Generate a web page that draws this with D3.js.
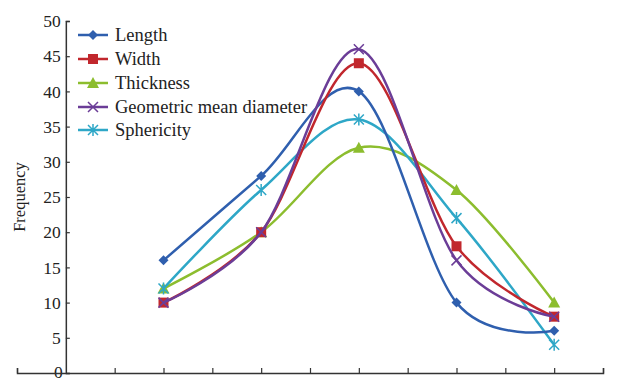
<!DOCTYPE html>
<html><head><meta charset="utf-8">
<script src="https://cdn.jsdelivr.net/npm/d3@7"></script>
<style>body{margin:0;background:#fff}svg{display:block}text{font-family:"Liberation Serif","Times New Roman",serif}</style>
</head><body>
<svg id="c" width="621" height="381"></svg>
<script>
const xPositions = [2, 4, 6, 8, 10];
const yTicks = [0, 5, 10, 15, 20, 25, 30, 35, 40, 45, 50];
const seriesNames = ["Length", "Width", "Thickness", "Geometric mean diameter", "Sphericity"];
const lengthVals = [16, 28, 40, 10, 6];
const widthVals = [10, 20, 44, 18, 8];
const thicknessVals = [12, 20, 32, 26, 10];
const gmdVals = [10, 20, 46, 16, 8];
const sphericityVals = [12, 26, 36, 22, 4];
const colors = ["#2f5fae", "#c1272d", "#8cbd2e", "#6b3d97", "#2ea7c7"];
const markers = ["diamond", "square", "triangle", "x", "asterisk"];

const series = [lengthVals, widthVals, thicknessVals, gmdVals, sphericityVals];
const svg = d3.select("#c");
const x = d3.scaleLinear().domain([-1, 11]).range([17, 603]);
const y = d3.scaleLinear().domain([0, 50]).range([373, 21]);

// y axis
const yAxis = svg.append("g").attr("transform", `translate(${x(0)},0)`)
  .call(d3.axisRight(y).tickValues(yTicks).tickSize(4).tickFormat(""));
yAxis.select(".domain").attr("stroke", "#333").attr("stroke-width", 1.5);
yAxis.selectAll("line").attr("stroke", "#333").attr("stroke-width", 1.2);
svg.append("g").selectAll("text").data(yTicks).join("text")
  .attr("x", d => d === 0 ? x(0) - 3 : x(0) - 5).attr("y", d => y(d))
  .attr("dy", d => d === 0 ? "0.3em" : "0.35em")
  .attr("text-anchor", "end").attr("font-size", 17.5).attr("fill", "#222").text(d => d);

// x axis
const xAxis = svg.append("g").attr("transform", `translate(0,${y(0)})`)
  .call(d3.axisTop(x).tickValues(d3.range(-1, 12)).tickSize(5).tickSizeOuter(5).tickFormat(""));
xAxis.select(".domain").attr("stroke", "#333").attr("stroke-width", 1.5);
xAxis.selectAll("line").attr("stroke", "#333").attr("stroke-width", 1.2);
xAxis.selectAll(".tick").filter(d => d === 0).remove();

svg.append("text").attr("transform", `translate(25,${y(25)}) rotate(-90)`)
  .attr("text-anchor", "middle").attr("font-size", 16.5).attr("fill", "#222").text("Frequency");

function drawMarker(g, type, color, cx, cy) {
  if (type === "diamond") {
    g.append("path").attr("d", `M${cx},${cy-5}L${cx+5},${cy}L${cx},${cy+5}L${cx-5},${cy}Z`).attr("fill", color);
  } else if (type === "square") {
    g.append("rect").attr("x", cx-5).attr("y", cy-5).attr("width", 10).attr("height", 10).attr("fill", color);
  } else if (type === "triangle") {
    g.append("path").attr("d", `M${cx},${cy-6}L${cx+6},${cy+5}L${cx-6},${cy+5}Z`).attr("fill", color);
  } else if (type === "x") {
    g.append("path").attr("d", `M${cx-5},${cy-5}L${cx+5},${cy+5}M${cx-5},${cy+5}L${cx+5},${cy-5}`).attr("stroke", color).attr("stroke-width", 1.5);
  } else {
    g.append("path").attr("d", `M${cx-5},${cy-5}L${cx+5},${cy+5}M${cx-5},${cy+5}L${cx+5},${cy-5}M${cx},${cy-6}L${cx},${cy+6}`).attr("stroke", color).attr("stroke-width", 1.5);
  }
}

const line = d3.line().x((d, i) => x(xPositions[i])).y(d => y(d)).curve(d3.curveCardinal.tension(0));
const order = [2, 4, 0, 1, 3];
order.forEach(si => {
  const g = svg.append("g");
  g.append("path").datum(series[si]).attr("d", line).attr("fill", "none")
    .attr("stroke", colors[si]).attr("stroke-width", 2.5);
  series[si].forEach((v, i) => drawMarker(g, markers[si], colors[si], x(xPositions[i]), y(v)));
});

// legend
const legY = [35, 59, 83, 107, 130];
seriesNames.forEach((n, i) => {
  const g = svg.append("g");
  g.append("line").attr("x1", 78).attr("x2", 108).attr("y1", legY[i]).attr("y2", legY[i])
    .attr("stroke", colors[i]).attr("stroke-width", 2.5);
  drawMarker(g, markers[i], colors[i], 93, legY[i]);
  g.append("text").attr("x", 115).attr("y", legY[i]).attr("dy", "0.35em")
    .attr("font-size", 18.5).attr("fill", "#222").text(n);
});
</script>
</body></html>
